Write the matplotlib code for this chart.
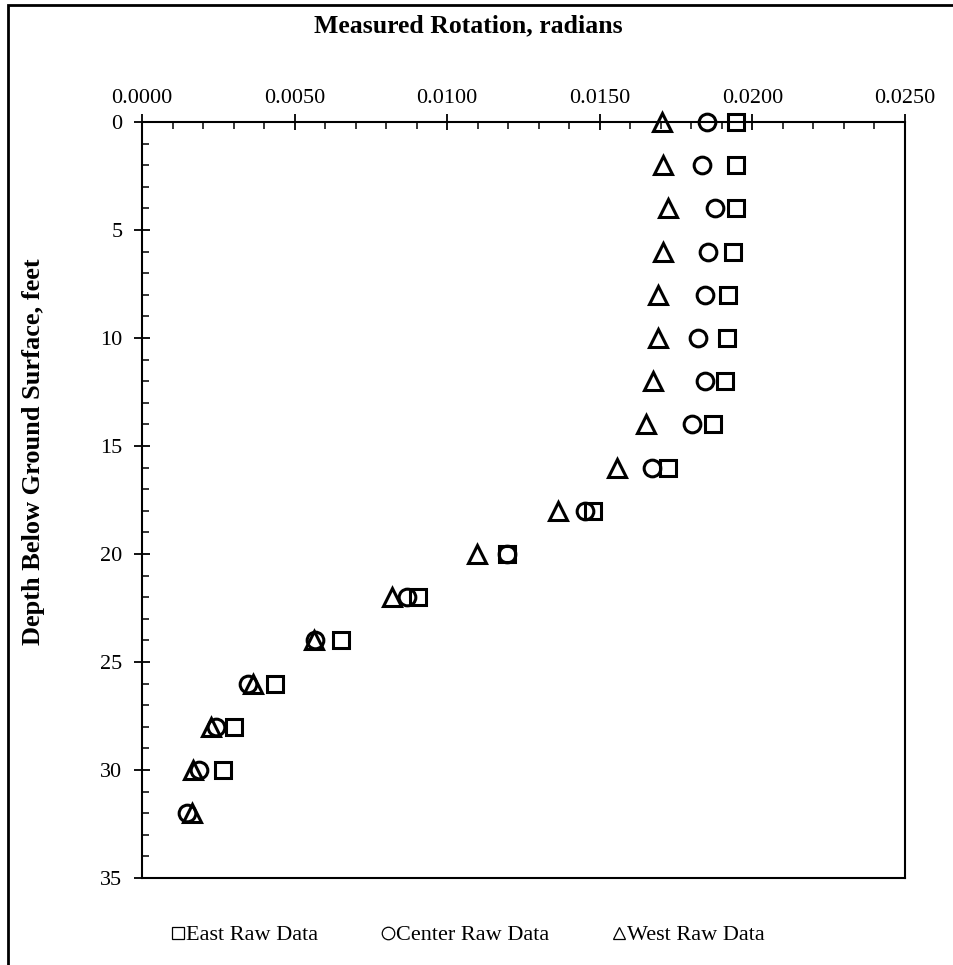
import numpy as np
import matplotlib
matplotlib.use("Agg")
import matplotlib.pyplot as plt
from matplotlib.ticker import MultipleLocator, FormatStrFormatter
from matplotlib.patches import Rectangle

plt.rcParams['font.family'] = ['Liberation Serif', 'DejaVu Serif']

# depth below ground surface, feet
depth = [0, 2, 4, 6, 8, 10, 12, 14, 16, 18, 20, 22, 24, 26, 28, 30, 32]
depth_east = depth[:-1]

# measured rotation, radians
east = [0.01946, 0.01946, 0.01946, 0.01936, 0.01920, 0.01917, 0.01910, 0.01871,
        0.01723, 0.01478, 0.01196, 0.00904, 0.00652, 0.00436, 0.00301, 0.00265]
center = [0.01851, 0.01835, 0.01877, 0.01854, 0.01845, 0.01822, 0.01845, 0.01802,
          0.01671, 0.01452, 0.01196, 0.00868, 0.00567, 0.00347, 0.00242, 0.00187,
          0.00147]
west = [0.01704, 0.01707, 0.01723, 0.01707, 0.01690, 0.01690, 0.01674, 0.01651,
        0.01556, 0.01363, 0.01097, 0.00819, 0.00564, 0.00364, 0.00226, 0.00167,
        0.00164]

fig = plt.figure(figsize=(9.54, 9.65), dpi=100)
ax = fig.add_axes([142 / 954, 1 - 878 / 965, (905 - 142) / 954, (878 - 122) / 965])

mk = dict(linestyle='none', mfc='none', mec='black', mew=2.2, clip_on=False)
ax.plot(east, depth_east, 's', ms=11.5, label='East Raw Data', **mk)
ax.plot(center, depth, 'o', ms=12, label='Center Raw Data', **mk)
ax.plot(west, depth, '^', ms=12.5, label='West Raw Data', **mk)

ax.set_xlim(0, 0.025)
ax.set_ylim(35, 0)
ax.xaxis.set_major_locator(MultipleLocator(0.005))
ax.xaxis.set_minor_locator(MultipleLocator(0.001))
ax.xaxis.set_major_formatter(FormatStrFormatter('%.4f'))
ax.yaxis.set_major_locator(MultipleLocator(5))
ax.yaxis.set_minor_locator(MultipleLocator(1))

ax.xaxis.tick_top()
ax.xaxis.set_label_position('top')
ax.tick_params(axis='x', which='major', direction='inout', length=12, width=1.3,
               labelsize=16, pad=4, top=True, bottom=False)
ax.tick_params(axis='x', which='minor', direction='in', length=5, width=1.1,
               top=True, bottom=False)
ax.tick_params(axis='y', which='major', direction='inout', length=12, width=1.3,
               labelsize=16, pad=8, left=True, right=False)
ax.tick_params(axis='y', which='minor', direction='in', length=5, width=1.1,
               left=True, right=False)
for s in ax.spines.values():
    s.set_linewidth(1.5)

ax.set_xlabel('Measured Rotation, radians', fontsize=18.5, fontweight='bold')
ax.set_ylabel('Depth Below Ground Surface, feet', fontsize=19, fontweight='bold')
ax.xaxis.set_label_coords(468 / 954, 1 - 32 / 965, transform=fig.transFigure)
ax.yaxis.set_label_coords(45 / 954, 1 - 452 / 965, transform=fig.transFigure)

lh = []
for m in ['s', 'o', '^']:
    lh.append(plt.Line2D([], [], linestyle='none', marker=m, mfc='none',
                         mec='black', mew=0.9, ms=9))
fig.legend(lh, ['East Raw Data', 'Center Raw Data', 'West Raw Data'],
           loc='center', bbox_to_anchor=(0.49, 1 - 935 / 965), ncol=3,
           frameon=False, fontsize=16, handletextpad=0.0, columnspacing=2.8,
           handlelength=0.7)

# outer frame around the chart
fig.patches.append(Rectangle((8 / 954, -0.1), 1.2, 1 - 5 / 965 + 0.1,
                             transform=fig.transFigure, fill=False,
                             edgecolor='black', linewidth=2))

fig.savefig('out.png', dpi=100)
